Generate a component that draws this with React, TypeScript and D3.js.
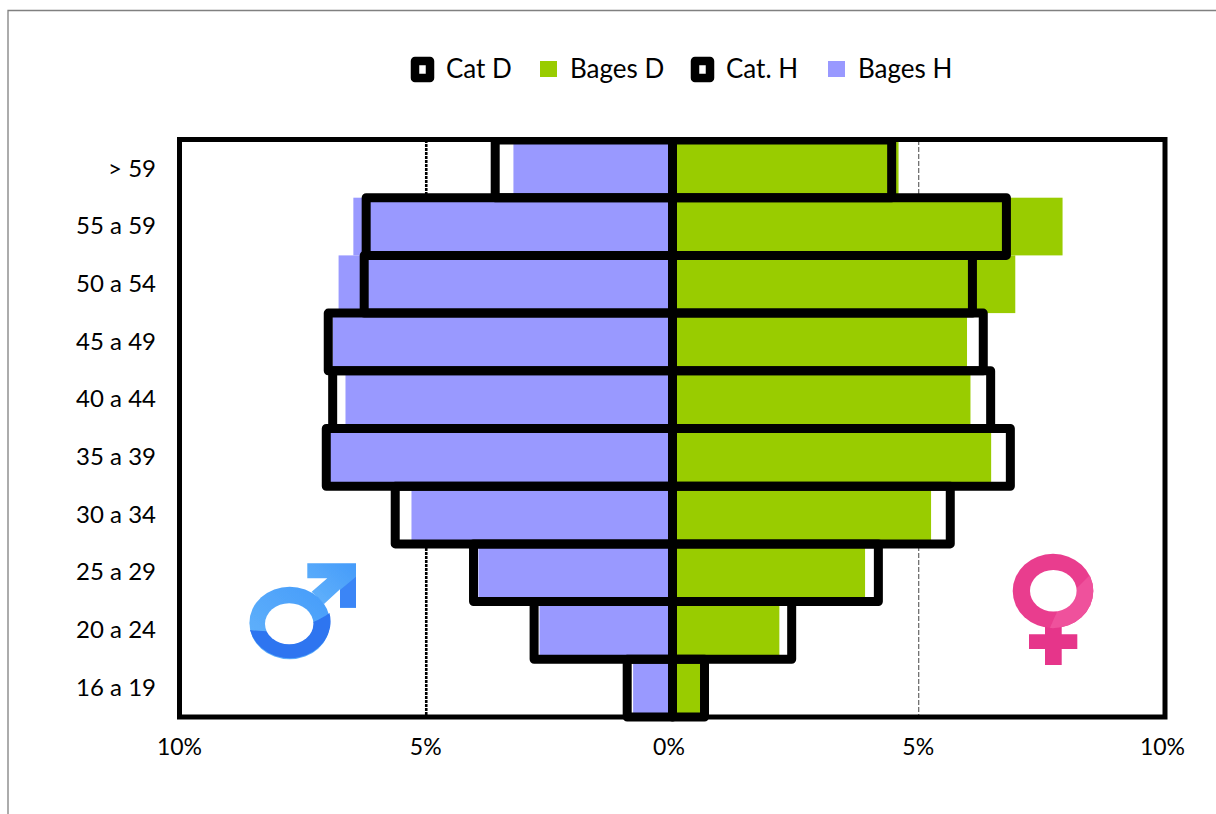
import { useEffect, useRef } from 'react';
import * as d3 from 'd3';

const ageGroups = ['> 59', '55 a 59', '50 a 54', '45 a 49', '40 a 44', '35 a 39', '30 a 34', '25 a 29', '20 a 24', '16 a 19'];
const bagesD = [4.59, 7.92, 6.96, 5.98, 6.05, 6.47, 5.25, 3.91, 2.17, 0.57];
const bagesH = [3.23, 6.48, 6.78, 6.9, 6.64, 7.08, 5.3, 3.94, 2.7, 0.8];
const catD = [4.45, 6.78, 6.09, 6.31, 6.46, 6.86, 5.64, 4.18, 2.42, 0.65];
const catH = [3.6, 6.22, 6.26, 6.99, 6.9, 7.03, 5.63, 4.04, 2.81, 0.92];
const axisTicks = [-10, -5, 0, 5, 10];
const legendItems = [
  { label: 'Cat D', x: 411, outline: true, color: '#000000' },
  { label: 'Bages D', x: 540, outline: false, color: '#99CC00' },
  { label: 'Cat. H', x: 691, outline: true, color: '#000000' },
  { label: 'Bages H', x: 828, outline: false, color: '#9999FF' },
];

const width = 1216;
const height = 814;
const fontFamily = "Lato, 'Open Sans', sans-serif";
const margin = { top: 140, right: 51, bottom: 97, left: 180 };

function MaleIcon() {
  return (
    <g filter="url(#soft)">
      <defs>
        <linearGradient id="male-light" x1="0" x2="1" y1="1" y2="0">
          <stop offset="0%" stopColor="#64b4fb" />
          <stop offset="100%" stopColor="#459bfa" />
        </linearGradient>
      </defs>
      <path
        d="M307.3,563.3 H356 V607.7 H340 V589.3 L324,604 L311.7,591.7 L327.3,578.3 H307.3 Z"
        fill="url(#male-light)"
      />
      <path d="M356,576.7 V607.7 H340 V590 Z" fill="#3a85f6" />
      <ellipse cx="289.7" cy="623" rx="40.3" ry="36.3" fill="url(#male-light)" />
      <path d="M250,630 C262,632 300,634 329.5,613 A40.3,36.3 0 0,1 250,630 Z" fill="#2d74f0" />
      <ellipse cx="289.2" cy="623.8" rx="24.2" ry="20.5" fill="#fff" />
    </g>
  );
}

function FemaleIcon() {
  return (
    <g filter="url(#soft)">
      <defs>
        <clipPath id="female-ring">
          <ellipse cx="1053" cy="591" rx="40.3" ry="37.2" />
        </clipPath>
      </defs>
      <path d="M1045,625 H1061.7 V634.3 H1077.3 V649 H1061.7 V665 H1045 V649 H1029 V634.3 H1045 Z" fill="#e6348a" />
      <ellipse cx="1053" cy="591" rx="40.3" ry="37.2" fill="#e93c8e" />
      <path
        d="M1049,630 L1060,605 L1095,570 V630 Z"
        fill="#ef519c"
        clipPath="url(#female-ring)"
      />
      <ellipse cx="1053.3" cy="590.8" rx="23.3" ry="20.8" fill="#fff" />
    </g>
  );
}

export default function App() {
  const chartRef = useRef<SVGGElement>(null);

  useEffect(() => {
    if (!chartRef.current) return;

    const g = d3.select(chartRef.current);
    g.selectAll('*').remove();

    const x = d3
      .scaleLinear()
      .domain([-10, 10])
      .range([margin.left, width - margin.right]);

    const y = d3
      .scaleBand<string>()
      .domain(ageGroups)
      .range([margin.top, height - margin.bottom])
      .padding(0);

    // gridlines at 5%
    g.append('line')
      .attr('x1', x(-5))
      .attr('x2', x(-5))
      .attr('y1', margin.top)
      .attr('y2', height - margin.bottom)
      .attr('stroke', '#000')
      .attr('stroke-width', 2.6)
      .attr('stroke-dasharray', '3 1');

    g.append('line')
      .attr('x1', x(5))
      .attr('x2', x(5))
      .attr('y1', margin.top)
      .attr('y2', height - margin.bottom)
      .attr('stroke', '#444')
      .attr('stroke-width', 1)
      .attr('stroke-dasharray', '5 2');

    // filled bars
    g.append('g')
      .selectAll('rect')
      .data(ageGroups)
      .join('rect')
      .attr('x', x(0))
      .attr('y', (d) => y(d) ?? 0)
      .attr('width', (_, i) => x(bagesD[i]) - x(0))
      .attr('height', y.bandwidth())
      .attr('fill', '#99CC00');

    g.append('g')
      .selectAll('rect')
      .data(ageGroups)
      .join('rect')
      .attr('x', (_, i) => x(-bagesH[i]))
      .attr('y', (d) => y(d) ?? 0)
      .attr('width', (_, i) => x(0) - x(-bagesH[i]))
      .attr('height', y.bandwidth())
      .attr('fill', '#9999FF');

    // frame of the plot area
    g.append('rect')
      .attr('x', margin.left - 0.5)
      .attr('y', 139.5)
      .attr('width', width - margin.left - margin.right + 0.5)
      .attr('height', height - margin.bottom - 139.5)
      .attr('fill', 'none')
      .attr('stroke', '#000')
      .attr('stroke-width', 5);

    // outlined bars, cut off at the top of the frame
    g.append('clipPath')
      .attr('id', 'outline-clip')
      .append('rect')
      .attr('x', 0)
      .attr('y', 137)
      .attr('width', width)
      .attr('height', height - 137);

    const outlines = g.append('g').attr('clip-path', 'url(#outline-clip)');

    outlines
      .append('g')
      .selectAll('rect')
      .data(ageGroups)
      .join('rect')
      .attr('x', x(0))
      .attr('y', (d) => y(d) ?? 0)
      .attr('width', (_, i) => x(catD[i]) - x(0))
      .attr('height', y.bandwidth())
      .attr('fill', 'none')
      .attr('stroke', '#000')
      .attr('stroke-width', 9)
      .attr('stroke-linejoin', 'round');

    outlines
      .append('g')
      .selectAll('rect')
      .data(ageGroups)
      .join('rect')
      .attr('x', (_, i) => x(-catH[i]))
      .attr('y', (d) => y(d) ?? 0)
      .attr('width', (_, i) => x(0) - x(-catH[i]))
      .attr('height', y.bandwidth())
      .attr('fill', 'none')
      .attr('stroke', '#000')
      .attr('stroke-width', 9)
      .attr('stroke-linejoin', 'round');

    // axes
    const xAxis = d3
      .axisBottom(x)
      .tickValues(axisTicks)
      .tickSize(0)
      .tickPadding(0)
      .tickFormat((value) => `${Math.abs(Number(value))}%`);

    g.append('g')
      .attr('transform', `translate(0,${height - margin.bottom + 22})`)
      .call(xAxis)
      .call((group) => {
        group.select('.domain').remove();
        group
          .selectAll<SVGTextElement, number>('.tick text')
          .attr('dx', (d) => (d === 0 ? -4 : d === 10 ? -3 : -1))
          .attr('fill', '#000')
          .attr('font-size', 23)
          .attr('font-family', fontFamily);
      });

    const yAxis = d3.axisLeft(y).tickSize(0).tickPadding(24);

    g.append('g')
      .attr('transform', `translate(${margin.left},0)`)
      .call(yAxis)
      .call((group) => {
        group.select('.domain').remove();
        group
          .selectAll('.tick text')
          .attr('fill', '#000')
          .attr('font-size', 24)
          .attr('font-family', fontFamily);
      });

    // legend
    const legend = g
      .append('g')
      .selectAll('g')
      .data(legendItems)
      .join('g')
      .attr('transform', (d) => `translate(${d.x},0)`);

    legend.each(function (d) {
      const item = d3.select(this);
      if (d.outline) {
        item
          .append('rect')
          .attr('x', 4)
          .attr('y', 61)
          .attr('width', 15)
          .attr('height', 17)
          .attr('fill', '#fff')
          .attr('stroke', d.color)
          .attr('stroke-width', 8.5)
          .attr('stroke-linejoin', 'round');
      } else {
        item
          .append('rect')
          .attr('x', 0)
          .attr('y', 61)
          .attr('width', 17)
          .attr('height', 16)
          .attr('fill', d.color);
      }
      item
        .append('text')
        .attr('x', d.outline ? 35 : 30)
        .attr('y', 78)
        .attr('font-size', 26)
        .attr('font-family', fontFamily)
        .text(d.label);
    });
  }, []);

  return (
    <svg
      width={width}
      height={height}
      viewBox={`0 0 ${width} ${height}`}
      style={{ position: 'absolute', left: 0, top: 0, background: '#fff' }}
    >
      <defs>
        <filter id="soft">
          <feGaussianBlur stdDeviation="0.6" />
        </filter>
      </defs>
      <path d={`M8,${height} V10.5 H${width}`} fill="none" stroke="#808080" strokeWidth={1.3} />
      <g ref={chartRef} />
      <MaleIcon />
      <FemaleIcon />
    </svg>
  );
}
